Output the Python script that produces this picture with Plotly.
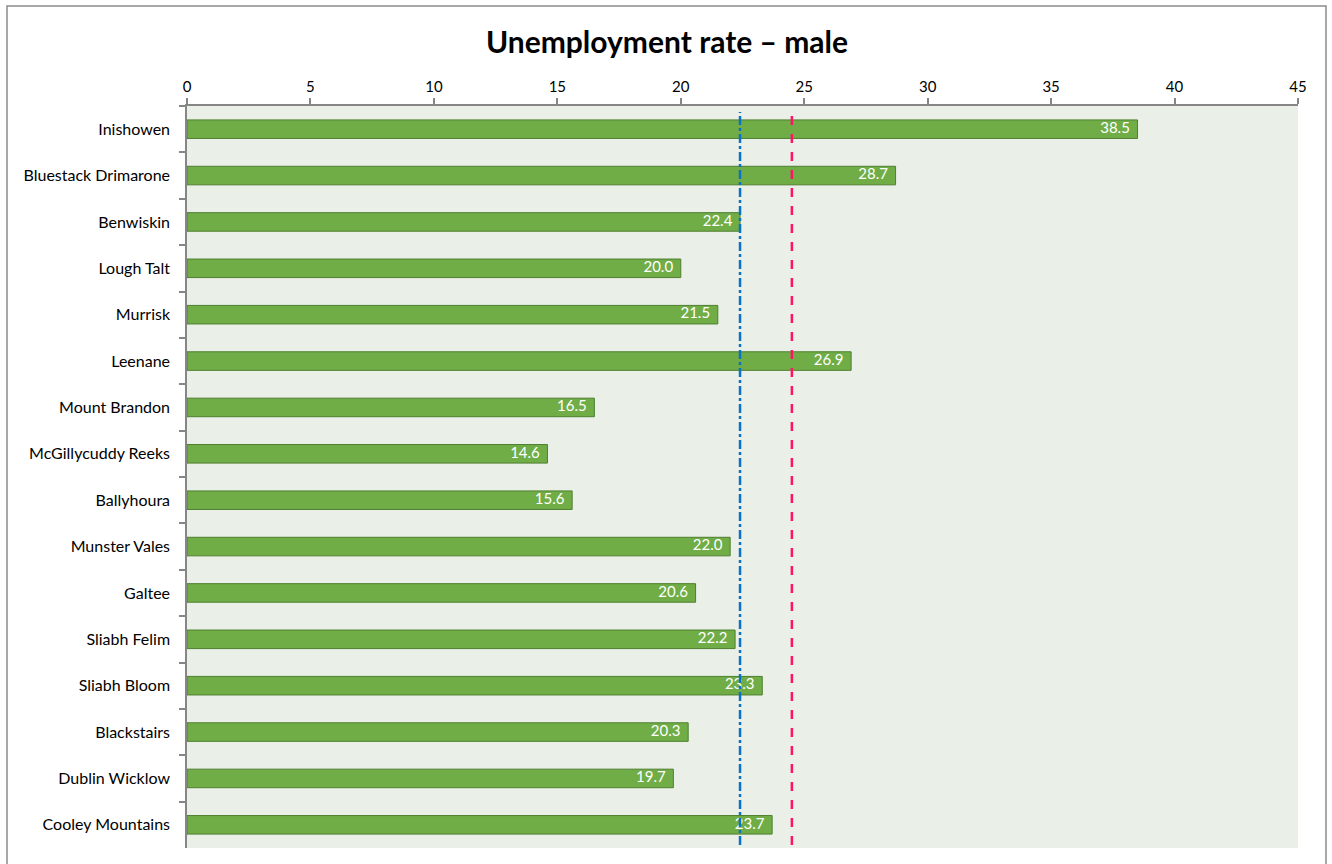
import plotly.graph_objects as go

# Upland areas and male unemployment rate (%)
areas = [
    "Inishowen", "Bluestack Drimarone", "Benwiskin", "Lough Talt", "Murrisk",
    "Leenane", "Mount Brandon", "McGillycuddy Reeks", "Ballyhoura",
    "Munster Vales", "Galtee", "Sliabh Felim", "Sliabh Bloom", "Blackstairs",
    "Dublin Wicklow", "Cooley Mountains",
]
rates = [38.5, 28.7, 22.4, 20.0, 21.5, 26.9, 16.5, 14.6, 15.6,
         22.0, 20.6, 22.2, 23.3, 20.3, 19.7, 23.7]

# Reference levels drawn as vertical lines
avg_upland = 22.4
avg_national = 24.5

x_ticks = [0, 5, 10, 15, 20, 25, 30, 35, 40, 45]

FONT = "Lato, 'Noto Sans', sans-serif"
W, H = 1332, 864
L, R, T, B = 187, 34, 106, 16
pw, ph = W - L - R, H - T - B

fig = go.Figure()
fig.add_trace(go.Bar(
    x=rates,
    y=areas,
    orientation="h",
    marker=dict(color="#70AD47", line=dict(color="#4E7F2F", width=1)),
    width=0.4,
    hoverinfo="x+y",
))
# value labels sitting just inside the end of each bar
fig.add_trace(go.Scatter(
    x=rates,
    y=areas,
    mode="text",
    text=[f"{v:.1f}  " for v in rates],
    textposition="middle left",
    textfont=dict(color="white", size=15, family=FONT),
    hoverinfo="skip",
    cliponaxis=False,
))

shapes = [
    dict(type="line", xref="x", yref="paper", x0=avg_upland, x1=avg_upland,
         y0=0.004, y1=0.992, line=dict(color="#0A72C8", width=2.5, dash="dashdot")),
    dict(type="line", xref="x", yref="paper", x0=avg_national, x1=avg_national,
         y0=0.004, y1=0.992, line=dict(color="#FF1366", width=2.5, dash="dash")),
    # outer chart frame
    dict(type="rect", xref="paper", yref="paper",
         x0=(7 - L) / pw, x1=(1326 - L) / pw,
         y0=-(H + 10 - (H - B)) / ph, y1=1 + (T - 6) / ph,
         line=dict(color="#8C8C8C", width=1.5), fillcolor="rgba(0,0,0,0)",
         layer="below"),
]

fig.update_layout(
    width=W, height=H,
    margin=dict(l=L, r=R, t=T, b=B),
    paper_bgcolor="white",
    plot_bgcolor="#EAEFE7",
    showlegend=False,
    shapes=shapes,
    title=dict(text="<b>Unemployment rate – male</b>", x=667 / W, xanchor="center",
               y=1 - 42 / H, yanchor="middle",
               font=dict(size=30, color="black", family=FONT)),
    font=dict(family=FONT, color="black"),
    bargap=0.6,
)
fig.update_xaxes(
    side="top", range=[0, 45], tickvals=x_ticks, ticktext=[str(t) for t in x_ticks],
    showgrid=False, zeroline=False, showline=True, linecolor="#868686", linewidth=1.5,
    ticks="outside", ticklen=6, tickcolor="#868686", tickwidth=1.5,
    tickfont=dict(size=15, color="black", family=FONT),
)
fig.update_yaxes(
    range=[len(areas) - 0.5, -0.5], showgrid=False, zeroline=False,
    showline=True, linecolor="#868686", linewidth=1.5,
    ticks="outside", ticklen=6, tickcolor="#868686", tickwidth=1.5,
    tickson="boundaries", ticklabelstandoff=12,
    tickfont=dict(size=16, color="black", family=FONT),
)

fig.write_html("out.html")
